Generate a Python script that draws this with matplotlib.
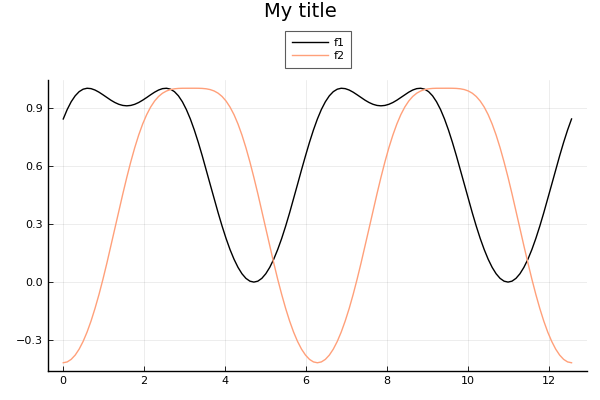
import matplotlib
matplotlib.use("Agg")
import matplotlib.pyplot as plt

x = [0.000, 0.098, 0.196, 0.295, 0.393, 0.491, 0.589, 0.687, 0.785, 0.884, 0.982, 1.080,
     1.178, 1.276, 1.374, 1.473, 1.571, 1.669, 1.767, 1.865, 1.963, 2.062, 2.160, 2.258,
     2.356, 2.454, 2.553, 2.651, 2.749, 2.847, 2.945, 3.043, 3.142, 3.240, 3.338, 3.436,
     3.534, 3.632, 3.731, 3.829, 3.927, 4.025, 4.123, 4.222, 4.320, 4.418, 4.516, 4.614,
     4.712, 4.811, 4.909, 5.007, 5.105, 5.203, 5.301, 5.400, 5.498, 5.596, 5.694, 5.792,
     5.890, 5.989, 6.087, 6.185, 6.283, 6.381, 6.480, 6.578, 6.676, 6.774, 6.872, 6.970,
     7.069, 7.167, 7.265, 7.363, 7.461, 7.560, 7.658, 7.756, 7.854, 7.952, 8.050, 8.149,
     8.247, 8.345, 8.443, 8.541, 8.639, 8.738, 8.836, 8.934, 9.032, 9.130, 9.228, 9.327,
     9.425, 9.523, 9.621, 9.719, 9.817, 9.916, 10.014, 10.112, 10.210, 10.308, 10.407,
     10.505, 10.603, 10.701, 10.799, 10.897, 10.996, 11.094, 11.192, 11.290, 11.388,
     11.487, 11.585, 11.683, 11.781, 11.879, 11.977, 12.076, 12.174, 12.272, 12.370,
     12.468, 12.566]

f1 = [0.84147, 0.89031, 0.93026, 0.96091, 0.98236, 0.99506, 0.99988, 0.99798, 0.99072,
      0.97963, 0.96622, 0.95199, 0.93831, 0.92637, 0.91712, 0.91129, 0.90930, 0.91129,
      0.91712, 0.92637, 0.93831, 0.95199, 0.96622, 0.97963, 0.99072, 0.99798, 0.99988,
      0.99506, 0.98236, 0.96091, 0.93026, 0.89031, 0.84147, 0.78456, 0.72078, 0.65162,
      0.57885, 0.50433, 0.42994, 0.35752, 0.28872, 0.22505, 0.16773, 0.11781, 0.07605,
      0.04305, 0.01921, 0.00482, 0.00000, 0.00482, 0.01921, 0.04305, 0.07605, 0.11781,
      0.16773, 0.22505, 0.28872, 0.35752, 0.42994, 0.50433, 0.57885, 0.65162, 0.72078,
      0.78456,
      0.84147, 0.89031, 0.93026, 0.96091, 0.98236, 0.99506, 0.99988, 0.99798, 0.99072,
      0.97963, 0.96622, 0.95199, 0.93831, 0.92637, 0.91712, 0.91129, 0.90930, 0.91129,
      0.91712, 0.92637, 0.93831, 0.95199, 0.96622, 0.97963, 0.99072, 0.99798, 0.99988,
      0.99506, 0.98236, 0.96091, 0.93026, 0.89031, 0.84147, 0.78456, 0.72078, 0.65162,
      0.57885, 0.50433, 0.42994, 0.35752, 0.28872, 0.22505, 0.16773, 0.11781, 0.07605,
      0.04305, 0.01921, 0.00482, 0.00000, 0.00482, 0.01921, 0.04305, 0.07605, 0.11781,
      0.16773, 0.22505, 0.28872, 0.35752, 0.42994, 0.50433, 0.57885, 0.65162, 0.72078,
      0.78456, 0.84147]

f2 = [-0.41615, -0.41176, -0.39860, -0.37662, -0.34579, -0.30613, -0.25773, -0.20084,
      -0.13589, -0.06355, 0.01523, 0.09924, 0.18701, 0.27685, 0.36693, 0.45536, 0.54030,
      0.62006, 0.69318, 0.75855, 0.81544, 0.86351, 0.90285, 0.93391, 0.95741, 0.97435,
      0.98583, 0.99304, 0.99710, 0.99907, 0.99982, 0.99999, 1.00000, 0.99999, 0.99982,
      0.99907, 0.99710, 0.99304, 0.98583, 0.97435, 0.95741, 0.93391, 0.90285, 0.86351,
      0.81544, 0.75855, 0.69318, 0.62006, 0.54030, 0.45536, 0.36693, 0.27685, 0.18701,
      0.09924, 0.01523, -0.06355, -0.13589, -0.20084, -0.25773, -0.30613, -0.34579,
      -0.37662, -0.39860, -0.41176,
      -0.41615, -0.41176, -0.39860, -0.37662, -0.34579, -0.30613, -0.25773, -0.20084,
      -0.13589, -0.06355, 0.01523, 0.09924, 0.18701, 0.27685, 0.36693, 0.45536, 0.54030,
      0.62006, 0.69318, 0.75855, 0.81544, 0.86351, 0.90285, 0.93391, 0.95741, 0.97435,
      0.98583, 0.99304, 0.99710, 0.99907, 0.99982, 0.99999, 1.00000, 0.99999, 0.99982,
      0.99907, 0.99710, 0.99304, 0.98583, 0.97435, 0.95741, 0.93391, 0.90285, 0.86351,
      0.81544, 0.75855, 0.69318, 0.62006, 0.54030, 0.45536, 0.36693, 0.27685, 0.18701,
      0.09924, 0.01523, -0.06355, -0.13589, -0.20084, -0.25773, -0.30613, -0.34579,
      -0.37662, -0.39860, -0.41176, -0.41615]

labels = ["f1", "f2"]
title = "My title"
xticks = [0, 2, 4, 6, 8, 10, 12]
yticks = [-0.3, 0.0, 0.3, 0.6, 0.9]
ytick_labels = ["\u22120.3", "0.0", "0.3", "0.6", "0.9"]

fig = plt.figure(figsize=(6, 4), dpi=100)
ax = fig.add_axes([0.08, 0.0725, 0.898, 0.7275])
ax.plot(x, f1, color="black", lw=1.0, label=labels[0])
ax.plot(x, f2, color="#FFA07A", lw=1.0, label=labels[1])

xmin, xmax = min(x), max(x)
ymin, ymax = min(min(f1), min(f2)), max(max(f1), max(f2))
xm = 0.03 * (xmax - xmin)
ym = 0.03 * (ymax - ymin)
ax.set_xlim(xmin - xm, xmax + xm)
ax.set_ylim(ymin - ym, ymax + ym)
ax.set_xticks(xticks)
ax.set_yticks(yticks)
ax.set_yticklabels(ytick_labels)
ax.grid(True, color="#000000", alpha=0.1, lw=0.5)
for s in ["top", "right"]:
    ax.spines[s].set_visible(False)
for s in ["left", "bottom"]:
    ax.spines[s].set_linewidth(1.0)
ax.tick_params(direction="in", length=3.5, width=0.6, labelsize=8, color="black")

fig.suptitle(title, fontsize=14, y=0.995)
leg = fig.legend(loc="upper center", bbox_to_anchor=(0.53, 0.9225), fontsize=8,
                 frameon=True, fancybox=False, edgecolor="#333333", handlelength=3.25,
                 borderpad=0.6, labelspacing=0.3, handletextpad=0.5, borderaxespad=0.0)
leg.get_frame().set_linewidth(0.8)

fig.savefig("out.png", dpi=100)
